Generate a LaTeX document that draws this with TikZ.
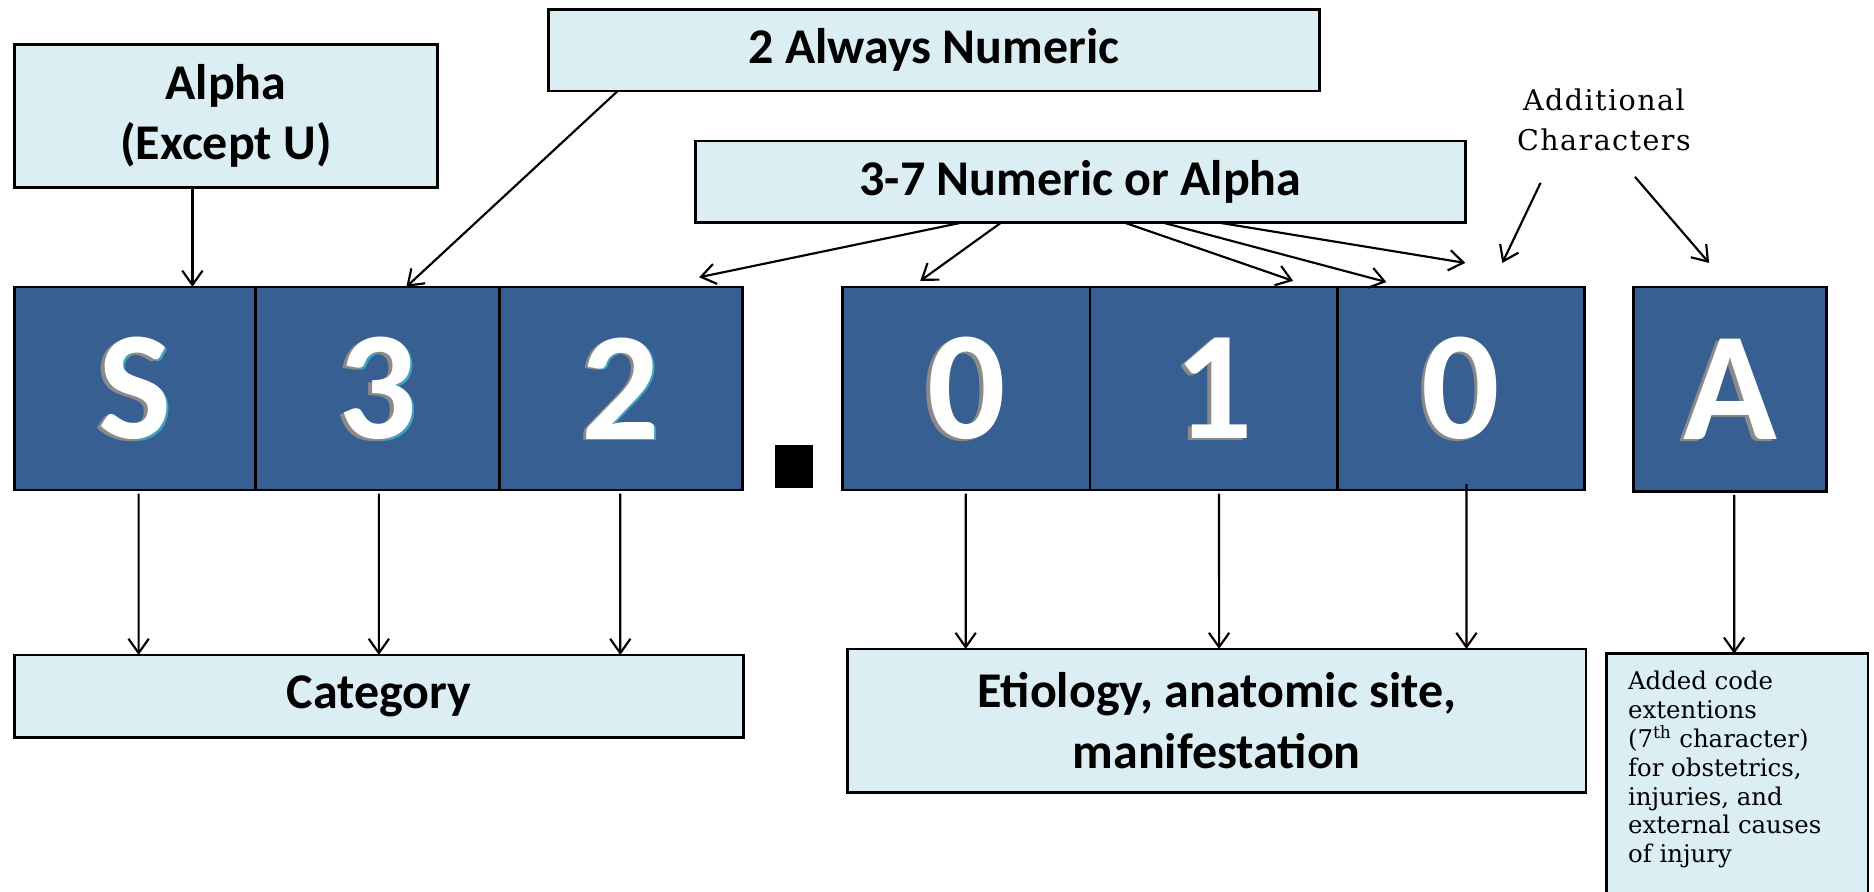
\documentclass[tikz,border=0pt]{standalone}
\usepackage{fontspec}
\setmainfont{Carlito}
\newfontfamily\slabfont{DejaVu Serif}
\newfontfamily\slabwide[LetterSpace=5]{DejaVu Serif}
\usetikzlibrary{arrows.meta}
\definecolor{cellblue}{HTML}{375F92}
\definecolor{paleblue}{HTML}{DBEEF3}
\definecolor{rimteal}{HTML}{3FA3BF}
\definecolor{bevel}{HTML}{8A8A8A}
\tikzset{
  glyph/.style={font=\fontsize{130}{130}\selectfont\bfseries, inner sep=0pt},
  cell/.style={draw=black, line width=2.2bp, fill=cellblue, inner sep=0pt,
    outer sep=0pt, anchor=north west, minimum height=170bp},
  tag/.style={draw=black, line width=2.2bp, fill=paleblue, inner sep=0pt, outer sep=0pt,
    anchor=north west, align=center, font=\fontsize{42}{51}\selectfont\bfseries},
  arr/.style={line width=1.8bp, -{Straight Barb[length=12bp,width=17bp]}},
}
\begin{document}
\begin{tikzpicture}[x=1bp,y=-1bp]
\fill[white] (0,0) rectangle (1568,746);
\useasboundingbox (0,0) rectangle (1568,746);

% code character cells
\node[cell, minimum width=202bp] (cS) at (12,240) {};
\node[cell, minimum width=204bp] (c3) at (214,240) {};
\node[cell, minimum width=203bp] (c2) at (418,240) {};
\node[fill=black, inner sep=0pt, minimum width=32bp, minimum height=36bp, anchor=north west] (dot) at (648,372) {};
\node[cell, minimum width=207bp] (d1) at (705,240) {};
\node[cell, minimum width=207bp] (d2) at (912,240) {};
\node[cell, minimum width=207bp] (d3) at (1119,240) {};
\node[cell, minimum width=161bp, minimum height=171bp] (cA) at (1367,240) {};

% embossed characters: optional teal rim, grey bevel, white face
\foreach \cellname/\ch/\rim in {cS/S/1, c3/3/1, c2/2/1, d1/0/0, d2/1/0, d3/0/0, cA/A/0}{
  \ifnum\rim=1
    \node[glyph, text=rimteal] (\cellname-rim) at ([shift={(1.8,1.5)}]\cellname.center) {\ch};
  \fi
  \node[glyph, text=bevel] (\cellname-bevel) at ([shift={(-3,1.5)}]\cellname.center) {\ch};
  \node[glyph, text=white] (\cellname-face) at (\cellname.center) {\ch};
}

% descriptions above
\node[tag, minimum width=354bp, minimum height=120bp] (alpha) at (12,37) {Alpha\\(Except U)};
\node[tag, minimum width=645bp, minimum height=68bp] (always) at (459,8) {2 Always Numeric};
\node[tag, minimum width=644bp, minimum height=68bp] (num) at (582,118) {3-7 Numeric or Alpha};
\node[align=center, font=\slabwide\fontsize{24}{33.5}\selectfont, inner sep=0pt] (addl) at (1342,100) {Additional\\Characters};

% descriptions below
\node[tag, minimum width=610bp, minimum height=69bp] (cat) at (12,548) {Category};
\node[tag, minimum width=618bp, minimum height=120bp] (ety) at (709,543) {Etiology, anatomic site,\\manifestation};
\node[tag, minimum width=219bp, minimum height=260bp] (added) at (1344,547) {};
\node[anchor=north west, align=left, inner sep=0pt, font=\slabfont\fontsize{20.5}{24.3}\selectfont]
  (addtext) at ([shift={(18,14)}]added.north west)
  {Added code\\extentions\\(7\textsuperscript{th} character)\\for obstetrics,\\injuries, and\\external causes\\of injury};

% arrows into the code
\draw[arr] ([xshift=149bp]alpha.south west) -- ([xshift=149bp]cS.north west);
\draw[arr] ([xshift=58bp]always.south west) -- ([xshift=126bp]c3.north west);
\draw[arr] ([xshift=224bp]num.south west) -- ([shift={(167,-8)}]c2.north west);
\draw[arr] ([xshift=256bp]num.south west) -- ([shift={(65,-5)}]d1.north west);
\draw[arr] ([xshift=358bp]num.south west) -- ([shift={(170,-5)}]d2.north west);
\draw[arr] ([xshift=390bp]num.south west) -- ([shift={(41,-4)}]d3.north west);
\draw[arr] ([xshift=436bp]num.south west) -- ([shift={(107,-20)}]d3.north west);
\draw[arr] ([shift={(-53,53)}]addl.center) -- ([shift={(138,-20)}]d3.north west);
\draw[arr] ([shift={(26,48)}]addl.center) -- ([shift={(63,-20)}]cA.north west);

% arrows out of the code
\draw[arr] ([shift={(104,3)}]cS.south west) -- ([xshift=104bp]cat.north west);
\draw[arr] ([shift={(103,3)}]c3.south west) -- ([xshift=305bp]cat.north west);
\draw[arr] ([shift={(101,3)}]c2.south west) -- ([xshift=507bp]cat.north west);
\draw[arr] ([shift={(103,3)}]d1.south west) -- ([xshift=99bp]ety.north west);
\draw[arr] ([shift={(108,3)}]d2.south west) -- ([xshift=311bp]ety.north west);
\draw[arr] ([shift={(108,-5)}]d3.south west) -- ([xshift=518bp]ety.north west);
\draw[arr] ([shift={(84,3)}]cA.south west) -- ([xshift=107bp]added.north west);
\end{tikzpicture}
\end{document}
